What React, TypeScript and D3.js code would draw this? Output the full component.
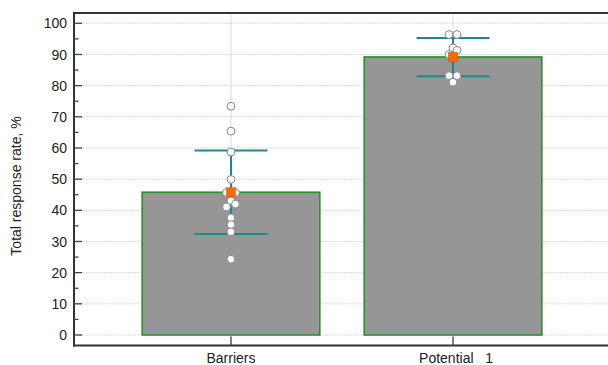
import React from "react";
import * as d3 from "d3";

const categories = ["Barriers", "Potential   1"];
const barMeans = [45.8, 89.2];
const errLower = [32.4, 83.0];
const errUpper = [59.2, 95.3];
const pointsBarriers = [73.4, 65.4, 58.7, 49.9, 45.7, 45.7, 43.0, 41.1, 42.0, 37.6, 35.4, 33.1, 24.3];
const offsetsBarriers = [0, 0, 0, 0, -4.5, 4.5, 0, -4.5, 4.5, 0, 0, 0, 0];
const pointsPotential = [96.4, 96.4, 92.1, 91.3, 90.0, 83.2, 83.2, 81.1];
const offsetsPotential = [-4, 4, 0, 4, -4, -4, 4, 0];
const yTicks = [0, 10, 20, 30, 40, 50, 60, 70, 80, 90, 100];
const yMinorTicks = [5, 15, 25, 35, 45, 55, 65, 75, 85, 95];

const W = 608;
const H = 365;
const left = 74;
const top = 13;
const bottom = 345.5;

export default function App() {
  const y = d3.scaleLinear().domain([0, 100]).range([335, 23.3]);
  const x = d3
    .scaleBand<string>()
    .domain(categories)
    .range([left, 610])
    .paddingInner(0.2)
    .paddingOuter(0.307);
  const bw = x.bandwidth();
  const cx = (c: string) => (x(c) as number) + bw / 2;
  const font = "'Liberation Sans', Arial, sans-serif";
  const pointSets = [
    { vals: pointsBarriers, offs: offsetsBarriers },
    { vals: pointsPotential, offs: offsetsPotential },
  ];
  const capHalf = 36.5;

  return (
    <svg
      width={W}
      height={H}
      style={{ position: "absolute", left: 0, top: 0, background: "#fff" }}
      fontFamily={font}
    >
      {yTicks.map((t) => (
        <line
          key={"g" + t}
          x1={left}
          x2={W}
          y1={y(t)}
          y2={y(t)}
          stroke="#dadada"
          strokeWidth={1}
          strokeDasharray="2,1"
        />
      ))}
      {categories.map((c) => (
        <line
          key={"vg" + c}
          x1={cx(c)}
          x2={cx(c)}
          y1={top}
          y2={bottom}
          stroke="#dcdcdc"
          strokeWidth={1}
        />
      ))}
      {categories.map((c, i) => (
        <rect
          key={"b" + c}
          x={x(c)}
          y={y(barMeans[i])}
          width={bw}
          height={y(0) - y(barMeans[i])}
          fill="#969696"
          stroke="#2a8f2a"
          strokeWidth={1.6}
        />
      ))}
      {categories.map((c, i) => (
        <g key={"e" + c} stroke="#1b8a8a" strokeWidth={2}>
          <line x1={cx(c)} x2={cx(c)} y1={y(errUpper[i])} y2={y(errLower[i])} />
          <line x1={cx(c) - capHalf} x2={cx(c) + capHalf} y1={y(errUpper[i])} y2={y(errUpper[i])} />
          <line x1={cx(c) - capHalf} x2={cx(c) + capHalf} y1={y(errLower[i])} y2={y(errLower[i])} />
        </g>
      ))}
      {categories.map((c, i) => (
        <g key={"p" + c}>
          {pointSets[i].vals.map((v, j) => (
            <circle
              key={j}
              cx={cx(c) + pointSets[i].offs[j]}
              cy={y(v)}
              r={3.9}
              fill="#fff"
              stroke="#888"
              strokeWidth={1}
            />
          ))}
          <rect
            x={cx(c) - 4.5}
            y={y(barMeans[i]) - 4.5}
            width={9}
            height={9}
            fill="#ff6a00"
            stroke="#d05000"
            strokeWidth={0.5}
          />
        </g>
      ))}
      <line x1={left - 1} x2={W} y1={top} y2={top} stroke="#333" strokeWidth={2} />
      <line x1={left - 1} x2={W} y1={bottom} y2={bottom} stroke="#333" strokeWidth={2} />
      <line x1={left} x2={left} y1={top - 1} y2={bottom + 1} stroke="#333" strokeWidth={2} />
      {yTicks.map((t) => (
        <g key={"t" + t}>
          <line x1={left} x2={left + 8} y1={y(t)} y2={y(t)} stroke="#444" strokeWidth={1.3} />
          <text x={67} y={y(t)} dy="0.36em" textAnchor="end" fontSize={14} fill="#222">
            {t}
          </text>
        </g>
      ))}
      {yMinorTicks.map((t) => (
        <line key={"m" + t} x1={left} x2={left + 4.5} y1={y(t)} y2={y(t)} stroke="#444" strokeWidth={1.3} />
      ))}
      {categories.map((c) => (
        <g key={"x" + c}>
          <line x1={cx(c)} x2={cx(c)} y1={bottom - 9} y2={bottom} stroke="#444" strokeWidth={1.3} />
          <text
            x={cx(c) + (c.startsWith("Potential") ? 3 : 0)}
            y={363}
            textAnchor="middle"
            fontSize={14}
            fill="#222"
            style={{ whiteSpace: "pre" }}
          >
            {c}
          </text>
        </g>
      ))}
      <text transform={`translate(21,186) rotate(-90)`} textAnchor="middle" fontSize={14} fill="#222">
        Total response rate, %
      </text>
    </svg>
  );
}
